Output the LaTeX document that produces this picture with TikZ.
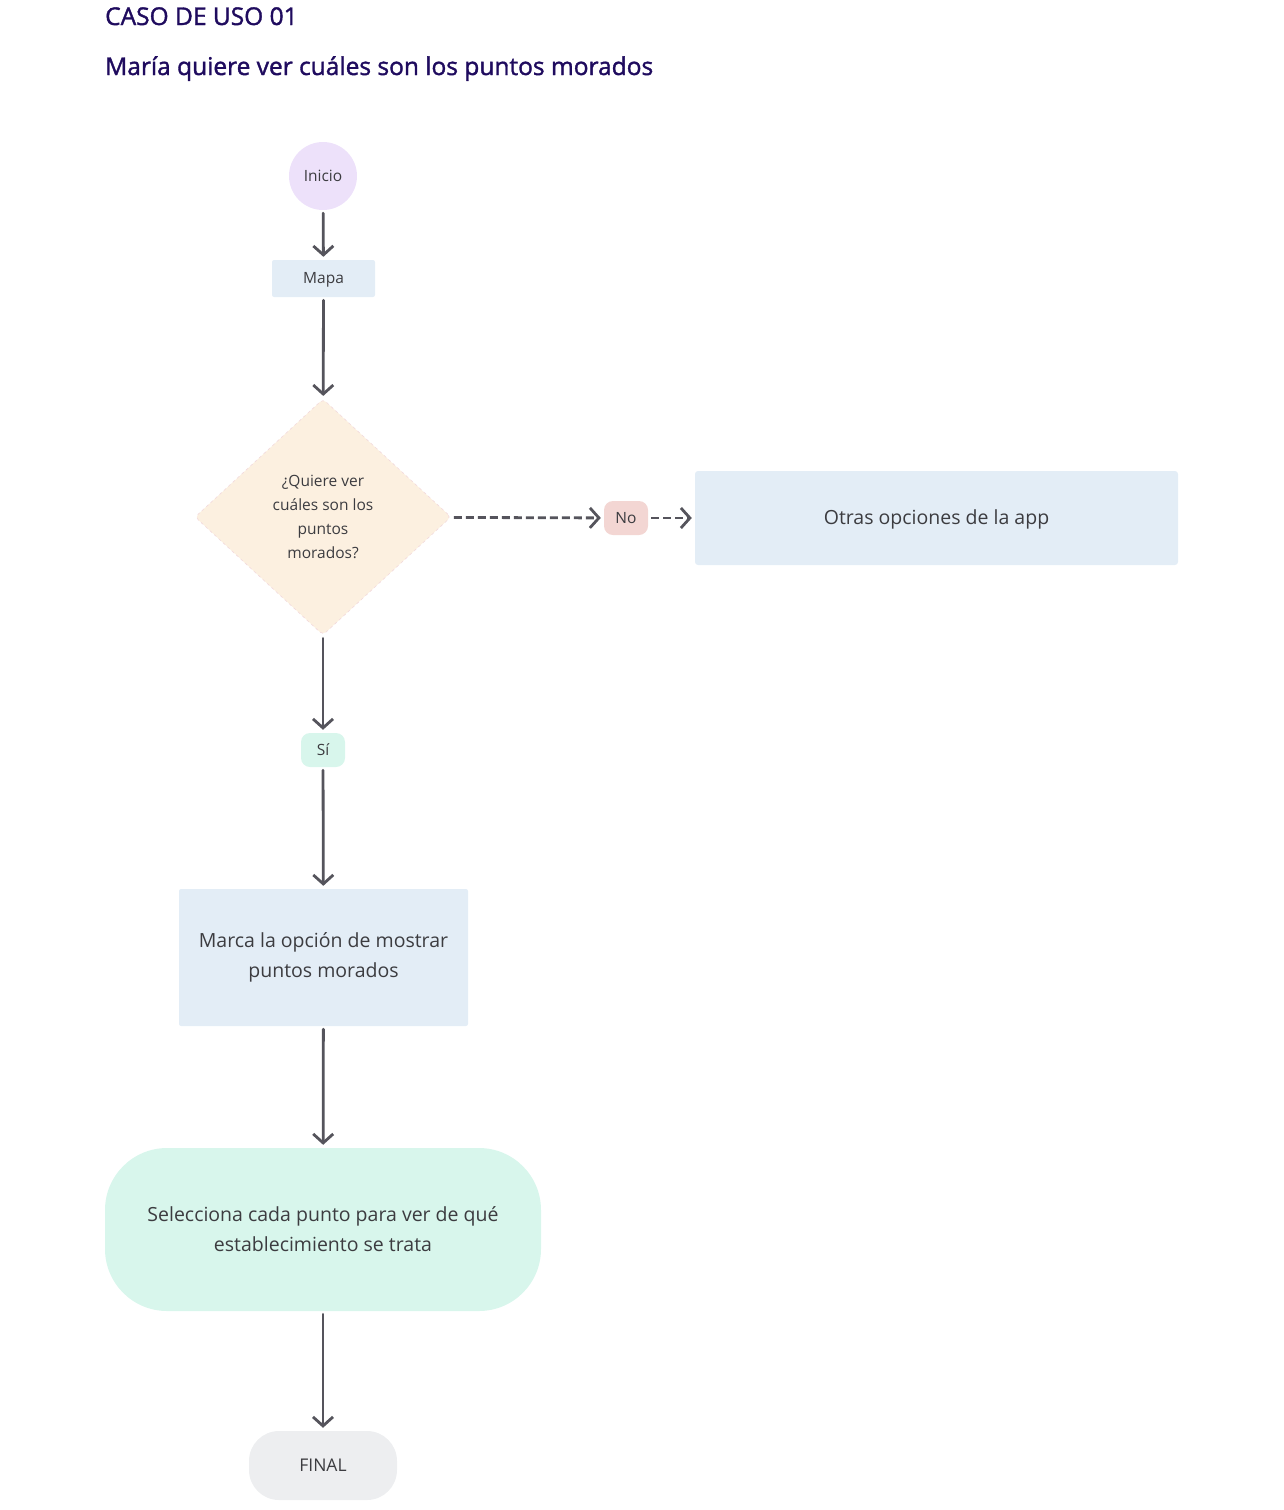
\documentclass[tikz,border=0pt]{standalone}
\usepackage{fontspec}
\setmainfont{Open Sans}
\newfontfamily\titlefont[FakeBold=1.5]{Open Sans}
\usetikzlibrary{shapes.geometric,arrows.meta}
\definecolor{titulo}{HTML}{1F0B5E}
\definecolor{texto}{HTML}{3C3C40}
\definecolor{linea}{HTML}{55545C}
\definecolor{lila}{HTML}{EDE1FA}
\definecolor{celeste}{HTML}{E3EDF6}
\definecolor{crema}{HTML}{FCF0E0}
\definecolor{rosa}{HTML}{F2D9DC}
\definecolor{rosado}{HTML}{F3D6D3}
\definecolor{menta}{HTML}{D8F6EC}
\definecolor{gris}{HTML}{EDEEF0}
\tikzset{
  chico/.style={font=\fontsize{15.5}{24}\selectfont, text height=10pt, text depth=0pt},
  grande/.style={font=\fontsize{19.5}{30}\selectfont},
  flecha/.style={draw=linea, line width=2.8pt, line cap=round,
    -{Straight Barb[length=9pt,width=20pt,line width=2.8pt]},
    shorten >=3pt, shorten <=3pt},
  punteada/.style={flecha, dash pattern=on 8pt off 4pt, line cap=butt},
}
\begin{document}
\begin{tikzpicture}[x=1pt,y=-1pt, every node/.style={text=texto, inner sep=0pt}]
  \useasboundingbox (0,0) rectangle (1284,1510);

  % titulos
  \node[anchor=base west, text=titulo, font=\titlefont\fontsize{24.5}{28}\selectfont] (caso) at (105,25) {CASO DE USO 01};
  \node[anchor=base west, text=titulo, font=\titlefont\fontsize{24.5}{28}\selectfont] (tema) at (105,75) {María quiere ver cuáles son los puntos morados};

  % nodos
  \node[chico, circle, fill=lila, minimum size=68pt] (inicio) at (323,176) {Inicio};
  \node[chico, fill=celeste, rounded corners=2pt, minimum width=103pt, minimum height=37pt] (mapa) at (323.5,278.5) {Mapa};
  \node[font=\fontsize{15.5}{24}\selectfont, diamond, fill=crema, draw=rosa, dashed, line width=0.6pt, rounded corners=4pt, minimum width=256pt, minimum height=236pt, align=center] (pregunta) at (323,517) {¿Quiere ver\\cuáles son los\\puntos\\morados?};
  \node[chico, fill=rosado, rounded corners=9pt, minimum width=44pt, minimum height=34pt] (no) at (626,518) {No};
  \node[grande, text height=13pt, text depth=0pt, fill=celeste, rounded corners=3pt, minimum width=483pt, minimum height=94pt] (otras) at (936.5,518) {Otras opciones de la app};
  \node[chico, fill=menta, rounded corners=9pt, minimum width=44pt, minimum height=34pt] (si) at (323,750) {Sí};
  \node[grande, fill=celeste, rounded corners=2pt, minimum width=289pt, minimum height=137pt, align=center] (marca) at (323.5,957.5) {Marca la opción de mostrar\\puntos morados};
  \node[grande, fill=menta, rounded corners=62pt, minimum width=436pt, minimum height=163pt, align=center] (selecciona) at (323,1229.5) {Selecciona cada punto para ver de qué\\establecimiento se trata};
  \node[chico, fill=gris, rounded corners=30pt, minimum width=148pt, minimum height=69pt, font=\fontsize{17.5}{20}\selectfont, text height=12.5pt] (final) at (323,1465.5) {FINAL};

  % conectores
  \draw[flecha] (inicio) -- (mapa);
  \draw[flecha] (mapa) -- (pregunta);
  \draw[punteada] (pregunta) -- (no);
  \draw[punteada] (no) -- (otras.west |- no);
  \draw[flecha] (pregunta) -- (si);
  \draw[flecha] (si) -- (marca);
  \draw[flecha] (marca) -- (selecciona);
  \draw[flecha] (selecciona) -- (final);
\end{tikzpicture}
\end{document}
